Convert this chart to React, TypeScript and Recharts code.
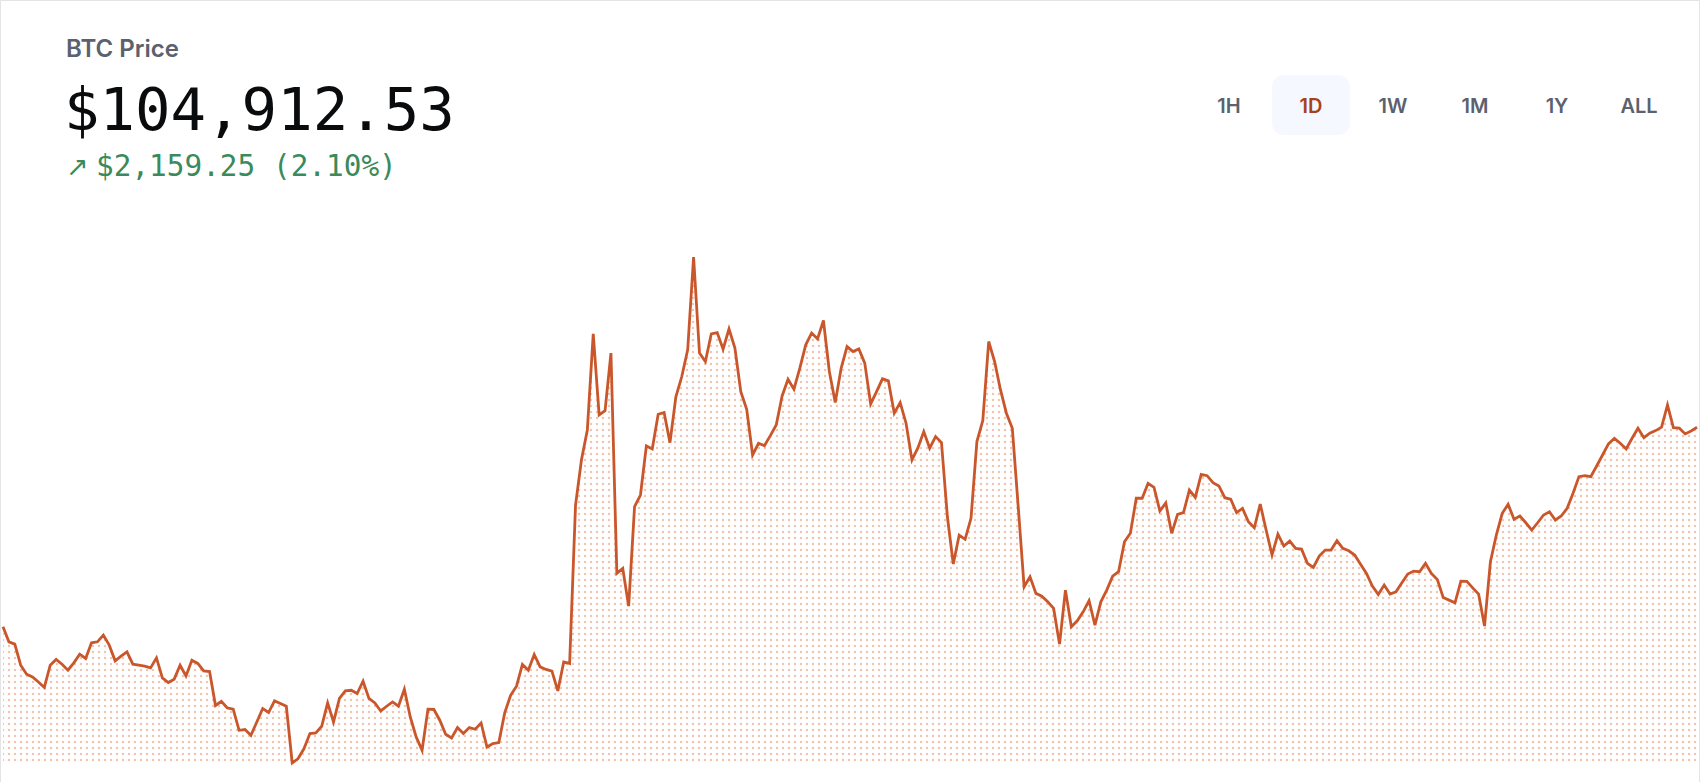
import { Area, AreaChart, XAxis, YAxis } from "recharts";

// BTC 1D price, 5 minute steps
const prices: number[] = [
  102753, 102591, 102566, 102338, 102241, 102211, 102157, 102097, 102338, 102400,
  102349, 102284, 102363, 102457, 102411, 102580, 102591, 102663, 102555, 102385,
  102436, 102482, 102349, 102338, 102327, 102309, 102417, 102201, 102151, 102187,
  102338, 102222, 102392, 102357, 102276, 102270, 101902, 101948, 101876, 101862,
  101634, 101642, 101580, 101724, 101869, 101826, 101952, 101923, 101894, 101280,
  101328, 101436, 101599, 101605, 101678, 101930, 101724, 101978, 102060, 102067,
  102032, 102165, 101978, 101930, 101843, 101894, 101941, 101894, 102078, 101778,
  101562, 101418, 101862, 101859, 101743, 101591, 101551, 101664, 101599, 101664,
  101645, 101713, 101453, 101490, 101501, 101822, 102013, 102111, 102346, 102284,
  102454, 102320, 102292, 102273, 102060, 102374, 102357, 104071, 104558, 104883,
  105923, 105046, 105092, 105714, 103331, 103385, 102977, 104053, 104179, 104710,
  104677, 105053, 105071, 104746, 105241, 105461, 105750, 106754, 105714, 105623,
  105923, 105937, 105757, 105977, 105768, 105298, 105107, 104612, 104739, 104713,
  104822, 104937, 105251, 105432, 105324, 105551, 105804, 105931, 105869, 106067,
  105515, 105179, 105551, 105785, 105731, 105760, 105606, 105165, 105298, 105436,
  105414, 105064, 105179, 104956, 104558, 104688, 104865, 104685, 104811, 104746,
  103944, 103432, 103746, 103700, 103927, 104757, 104984, 105840, 105623, 105316,
  105064, 104902, 104053, 103186, 103295, 103115, 103085, 103024, 102952, 102566,
  103150, 102753, 102818, 102915, 103035, 102771, 103024, 103150, 103302, 103349,
  103674, 103765, 104144, 104144, 104306, 104263, 104006, 104093, 103765, 103970,
  103988, 104233, 104154, 104403, 104388, 104313, 104277, 104150, 104133, 103988,
  104035, 103890, 103825, 104082, 103800, 103530, 103757, 103627, 103681, 103602,
  103594, 103440, 103396, 103519, 103584, 103584, 103684, 103602, 103576, 103530,
  103429, 103331, 103194, 103104, 103205, 103107, 103132, 103230, 103324, 103356,
  103349, 103440, 103331, 103266, 103071, 103042, 103013, 103248, 103245, 103175,
  103107, 102761, 103457, 103746, 103981, 104079, 103916, 103952, 103879, 103800,
  103879, 103963, 103998, 103909, 103952, 104035, 104198, 104378, 104388, 104378,
  104493, 104612, 104732, 104793, 104739, 104677, 104793, 104902, 104800, 104848,
  104876, 104913, 105154, 104908, 104902, 104840, 104872, 104912.53,
];

const ranges = ["1H", "1D", "1W", "1M", "1Y", "ALL"];
const activeRange = "1D";

const title = "BTC Price";
const lastPrice = "$104,912.53";
const change = "$2,159.25 (2.10%)";

const data = prices.map((p, i) => ({ t: i, price: p }));

const LINE = "#c9572b";

export default function App() {
  return (
    <div
      style={{
        position: "absolute",
        left: 0,
        top: 0,
        width: 1706,
        height: 782,
        overflow: "hidden",
        background: "#fff",
      }}
    >
      <div
        style={{
          position: "absolute",
          left: 0,
          top: 0,
          width: 1700,
          height: 900,
          border: "1px solid #e4e4e7",
          boxSizing: "border-box",
        }}
      />

      <div
        style={{
          position: "absolute",
          left: 66,
          top: 37,
          fontFamily: "Inter, sans-serif",
          fontWeight: 600,
          fontSize: 24,
          lineHeight: 1,
          color: "#5b616e",
        }}
      >
        {title}
      </div>

      <div
        style={{
          position: "absolute",
          left: 64,
          top: 80,
          fontFamily: "'DejaVu Sans Mono', monospace",
          fontSize: 59,
          lineHeight: 1,
          color: "#0a0b0d",
        }}
      >
        {lastPrice}
      </div>

      <div
        style={{
          position: "absolute",
          left: 66,
          top: 152,
          fontFamily: "'DejaVu Sans Mono', monospace",
          fontSize: 29.4,
          lineHeight: 1,
          color: "#3a8a5c",
          whiteSpace: "nowrap",
        }}
      >
        <span style={{ display: "inline-block", width: 30, fontSize: 27, fontFamily: "'DejaVu Sans', sans-serif" }}>↗</span>
        {change}
      </div>

      <div
        style={{
          position: "absolute",
          left: 1190,
          top: 75,
          display: "flex",
          gap: 4,
        }}
      >
        {ranges.map((r) => (
          <div
            key={r}
            style={{
              width: 78,
              height: 60,
              borderRadius: 12,
              display: "flex",
              alignItems: "center",
              justifyContent: "center",
              paddingTop: 2,
              boxSizing: "border-box",
              background: r === activeRange ? "#f5f8ff" : "transparent",
              color: r === activeRange ? "#a5421d" : "#5b616e",
              fontFamily: "Inter, sans-serif",
              fontWeight: 600,
              fontSize: 20,
              lineHeight: 1,
            }}
          >
            {r}
          </div>
        ))}
      </div>

      <div style={{ position: "absolute", left: 0, top: 253 }}>
        <AreaChart
          width={1700}
          height={514}
          data={data}
          margin={{ top: 4, right: 3, bottom: 4, left: 3 }}
        >
          <defs>
            <pattern id="dots" width="6" height="6" patternUnits="userSpaceOnUse">
              <circle cx="3" cy="3" r="1.25" fill="#f1c6b1" />
            </pattern>
          </defs>
          <XAxis dataKey="t" type="number" domain={["dataMin", "dataMax"]} hide />
          <YAxis domain={["dataMin", "dataMax"]} hide />
          <Area
            type="linear"
            dataKey="price"
            stroke={LINE}
            strokeWidth={2.8}
            fill="url(#dots)"
            fillOpacity={1}
            dot={false}
            activeDot={false}
            isAnimationActive={false}
          />
        </AreaChart>
      </div>
    </div>
  );
}
